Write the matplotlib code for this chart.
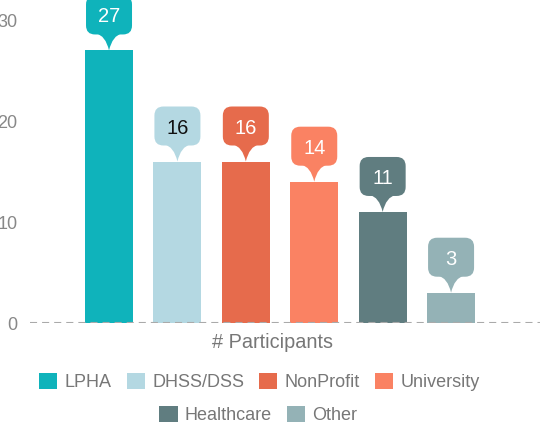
import numpy as np
import matplotlib.pyplot as plt
from matplotlib.patches import FancyBboxPatch, PathPatch, Patch
from matplotlib.path import Path
from matplotlib.transforms import ScaledTranslation

plt.rcParams['font.family'] = ['Liberation Sans', 'DejaVu Sans']

categories = ['LPHA', 'DHSS/DSS', 'NonProfit', 'University', 'Healthcare', 'Other']
participants = [27, 16, 16, 14, 11, 3]
colors = ['#0fb3bb', '#b4d8e2', '#e66b4c', '#fa8263', '#607d80', '#94b2b6']
label_colors = ['white', '#111111', 'white', 'white', 'white', 'white']

fig = plt.figure(figsize=(5.4, 4.24), dpi=100)
ax = fig.add_axes([30 / 540, 101 / 424, 510 / 540, 323 / 424])
x = np.arange(len(categories))
ax.bar(x, participants, width=0.7, color=colors, zorder=2)
ax.axhline(0, color='#aaaaaa', lw=1.5, ls=(0, (3.4, 2.4)), zorder=3)
ax.set_xlim(-1.155, 6.30)
ax.set_ylim(0, 32)
ax.set_yticks([0, 10, 20, 30])
ax.set_xticks([])
ax.tick_params(axis='y', length=0, pad=9, labelsize=13, labelcolor='#888888')
for s in ax.spines.values():
    s.set_visible(False)

# callout boxes above bars (sizes in inches)
bw, bh, ph, pw = 0.46, 0.39, 0.16, 0.26
for xi, v, c, tc in zip(x, participants, colors, label_colors):
    tr = fig.dpi_scale_trans + ScaledTranslation(xi, v, ax.transData)
    box = FancyBboxPatch((-bw / 2, ph), bw, bh, boxstyle='round,pad=0,rounding_size=0.09',
                         fc=c, ec='none', transform=tr, clip_on=False, zorder=4)
    tip_path = Path([(-pw / 2, ph + 0.01), (-0.035, ph - 0.01), (0, 0),
                     (0.035, ph - 0.01), (pw / 2, ph + 0.01), (-pw / 2, ph + 0.01)],
                    [Path.MOVETO, Path.CURVE3, Path.CURVE3,
                     Path.CURVE3, Path.CURVE3, Path.CLOSEPOLY])
    tip = PathPatch(tip_path, fc=c, ec='none', transform=tr, clip_on=False, zorder=4)
    ax.add_patch(box)
    ax.add_patch(tip)
    ax.text(0, ph + bh / 2, str(v), transform=tr, ha='center', va='center_baseline',
            fontsize=14.5, color=tc, zorder=5)

handles = [Patch(fc=c, ec='none') for c in colors]
leg_kw = dict(frameon=False, fontsize=13, labelcolor='#777777', handlelength=1.0,
              handleheight=1.0, handletextpad=0.4, columnspacing=0.85,
              borderpad=0, borderaxespad=0)
fig.legend(handles[:4], categories[:4], loc='center',
           bbox_to_anchor=(259.5 / 540, 1 - 382 / 424), ncol=4, **leg_kw)
fig.legend(handles[4:], categories[4:], loc='center',
           bbox_to_anchor=(258.5 / 540, 1 - 415 / 424), ncol=2, **leg_kw)
fig.text(273 / 540, 1 - 342 / 424, '# Participants', ha='center', va='center',
         fontsize=14.3, color='#777777')

fig.savefig('out.png', dpi=100)
